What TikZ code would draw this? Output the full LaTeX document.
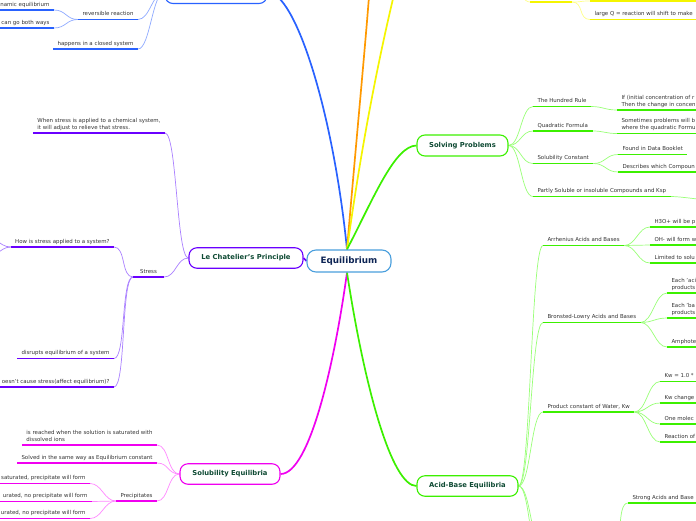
\documentclass[tikz,border=0pt]{standalone}
\usepackage{fontspec}
\setmainfont{DejaVu Sans}
\newcommand\leaffont{\fontsize{5.45}{7}\selectfont}
\newcommand\topicfont{\fontsize{6.8}{8}\selectfont\bfseries}
\newcommand\eqfont{\fontsize{8.8}{10}\selectfont\bfseries}
\definecolor{cBlue}{HTML}{2962FF}
\definecolor{cBlueL}{HTML}{8FAAFF}
\definecolor{cPur}{HTML}{6A00FF}
\definecolor{cPurL}{HTML}{AA80FF}
\definecolor{cMag}{HTML}{F000F0}
\definecolor{cMagL}{HTML}{FF88FF}
\definecolor{cGrn}{HTML}{3CF000}
\definecolor{cGrnL}{HTML}{99FF77}
\definecolor{cYel}{HTML}{F5F500}
\definecolor{cYelL}{HTML}{FFFF88}
\definecolor{cOra}{HTML}{FF9900}
\definecolor{cEq}{HTML}{4A9FDD}
\definecolor{cEqT}{HTML}{0D2454}
\definecolor{cTopT}{HTML}{0E4A33}
\definecolor{cTxt}{HTML}{333333}
\pgfdeclarelayer{background}
\pgfdeclarelayer{paper}
\pgfsetlayers{paper,background,main}
\tikzset{
  leaf/.style={font=\leaffont,text=cTxt,inner xsep=4.5pt,inner ysep=4pt,text depth=0pt,align=left,outer sep=0pt},
  ul/.style={line width=1.8pt,line cap=butt},
  conn/.style={line width=0.7pt},
  toR/.style={out=0,in=180,distance=12pt},
  toL/.style={out=180,in=0,distance=12pt},
  mainbr/.style={line width=1.7pt},
  topic/.style={draw,fill=white,rounded corners=8pt,line width=1.1pt,inner sep=0pt,minimum height=20.5pt,font=\topicfont,text=cTopT},
}
\newcommand\mleaf[5]{\node[leaf,anchor=#2] (#1) at (#3) {#5};\draw[ul,#4] (#1.south west) -- (#1.south east);}
\newcommand\cleaf[4]{\node[leaf,anchor=south west] (#1) at (#2) {#4};\draw[ul,#3] (#1.south west) -- ++(110,0);}
\begin{document}
\begin{tikzpicture}[x=1pt,y=-1pt]
\useasboundingbox (0,0) rectangle (696,520);
\clip (0,0) rectangle (696,520);
\begin{pgfonlayer}{paper}
\fill[white] (0,0) rectangle (696,520);
\end{pgfonlayer}

% central and topic nodes
\node[topic,draw=cEq,text=cEqT,font=\eqfont,minimum width=84pt,minimum height=22pt,rounded corners=9pt] (eq) at (349,261) {Equilibrium};
\node[topic,draw=cBlue,minimum width=102pt,minimum height=23pt] (bn) at (216,-8) {};
\node[topic,draw=cGrn,minimum width=91pt,minimum height=21pt] (sp) at (462.5,145.5) {Solving Problems};
\node[topic,draw=cPur,minimum width=114pt] (lc) at (246,258) {Le Chatelier's Principle};
\node[topic,draw=cMag,minimum width=100pt] (se) at (230,474) {Solubility Equilibria};
\node[topic,draw=cGrn,minimum width=101pt] (ab) at (467.5,486) {Acid-Base Equilibria};

% off-picture ends
\coordinate (oe) at (371,-30);
\coordinate (ye) at (400,-30);
\coordinate (yn) at (500,-35);
\coordinate (y1a) at (530,2);
\coordinate (y1b) at (572,2);
\coordinate (y2a) at (590,1);
\coordinate (y2b) at (700,1);
\coordinate (l21a) at (-19,233);
\coordinate (l21b) at (-19,262);
\coordinate (p4c) at (720,201);
\coordinate (h1) at (543,548);
\coordinate (h1e) at (612,548);
\coordinate (h2) at (543,575);

% leaves: blue
\mleaf{b1}{south east}{138,19.5}{cBlue}{reversible reaction}
\mleaf{b2}{south east}{138,49}{cBlue}{happens in a closed system}
\mleaf{b11}{south east}{54,10}{cBlue}{namic equilibrium}
\mleaf{b12}{south east}{54,28}{cBlue}{can go both ways}
% yellow
\draw[ul,cYel] (y1a) -- (y1b);
\draw[ul,cYel] (y2a) -- (y2b);
\cleaf{yq}{590,19.5}{cYel}{large Q = reaction will shift to make}
% purple
\mleaf{l1}{south east}{165,133}{cPur}{When stress is applied to a chemical system,\\it will adjust to relieve that stress.}
\node[leaf,anchor=south east,minimum width=31pt] (l2) at (164,277) {Stress};
\draw[ul,cPur] (l2.south west) -- (l2.south east);
\mleaf{l21}{south east}{114,247}{cPur}{How is stress applied to a system?}
\mleaf{l22}{south east}{114,358.5}{cPur}{disrupts equilibrium of a system}
\mleaf{l23}{south east}{114,387}{cPur}{oesn't cause stress(affect equilibrium)?}
% magenta
\mleaf{s1}{south east}{157,445}{cMag}{is reached when the solution is saturated with\\dissolved ions}
\mleaf{s2}{south east}{157,463}{cMag}{Solved in the same way as Equilibrium constant}
\mleaf{s3}{south east}{157,501}{cMag}{Precipitates}
\mleaf{s31}{south east}{90,483.5}{cMag}{saturated, precipitate will form}
\mleaf{s32}{south east}{92,501.5}{cMag}{urated, no precipitate will form}
\mleaf{s33}{south east}{90,518.5}{cMag}{urated, no precipitate will form}
% solving problems
\mleaf{p1}{south west}{533,106.5}{cGrn}{The Hundred Rule}
\cleaf{p11}{617,110}{cGrn}{If (initial concentration of r\\Then the change in concen}
\mleaf{p2}{south west}{533,131}{cGrn}{Quadratic Formula}
\cleaf{p21}{617,133.5}{cGrn}{Sometimes problems will b\\where the quadratic Formu}
\mleaf{p3}{south west}{533,163.5}{cGrn}{Solubility Constant}
\mleaf{p31}{south west}{618,154.5}{cGrn}{Found in Data Booklet}
\cleaf{p32}{618,172}{cGrn}{Describes which Compoun}
\mleaf{p4}{south west}{533,196.5}{cGrn}{Partly Soluble or insoluble Compounds and Ksp}
% acid-base
\mleaf{a1}{south west}{543,245.5}{cGrn}{Arrhenius Acids and Bases}
\cleaf{a11}{650,227}{cGrn}{H3O+ will be p}
\cleaf{a12}{650,245}{cGrn}{OH- will form w}
\cleaf{a13}{650,263}{cGrn}{Limited to solu}
\mleaf{a2}{south west}{543,322.5}{cGrn}{Bronsted-Lowry Acids and Bases}
\cleaf{a21}{667,293}{cGrn}{Each 'aci\\products}
\cleaf{a22}{667,318}{cGrn}{Each 'ba\\products}
\cleaf{a23}{667,347}{cGrn}{Amphote}
\mleaf{a3}{south west}{543,412}{cGrn}{Product constant of Water, Kw}
\cleaf{a31}{660,381.5}{cGrn}{Kw = 1.0 *}
\cleaf{a32}{660,403}{cGrn}{Kw change}
\cleaf{a33}{660,424}{cGrn}{One molec}
\cleaf{a34}{660,442}{cGrn}{Reaction of}
\cleaf{a41}{628,503}{cGrn}{Strong Acids and Base}

\begin{pgfonlayer}{background}
% main branches
\draw[mainbr,cBlue] ([xshift=-2pt]eq.north) .. controls (333,110) and (295,-8) .. (bn.east);
\draw[mainbr,cOra] ([xshift=-2pt]eq.north) .. controls (358,120) and (366,40) .. (oe);
\draw[mainbr,cYel] ([xshift=-2pt]eq.north) .. controls (365,120) and (385,30) .. (ye);
\draw[mainbr,cGrn] ([xshift=-2pt]eq.north) .. controls (375,195) and (395,146) .. (sp.west);
\draw[mainbr,cMag] ([xshift=-2pt]eq.south) .. controls (335,360) and (310,474) .. (se.east);
\draw[mainbr,cGrn] ([xshift=-2pt]eq.south) .. controls (365,390) and (392,486) .. (ab.west);
\draw[mainbr,cPur] (eq.west) -- (lc.east);
% blue
\draw[conn,cBlueL] (bn.west) to[toL] (b1.south east);
\draw[conn,cBlueL] (bn.west) to[toL] (b2.south east);
\draw[conn,cBlueL] (b1.south west) to[toL] (b11.south east);
\draw[conn,cBlueL] (b1.south west) to[toL] (b12.south east);
% yellow
\draw[conn,cYelL] (yn) to[toR] (y1a);
\draw[conn,cYelL] (y1b) to[toR] (y2a);
\draw[conn,cYelL] (y1b) to[toR] (yq.south west);
% purple
\draw[conn,cPurL] (lc.west) to[toL] (l1.south east);
\draw[conn,cPurL] (lc.west) to[toL] (l2.south east);
\draw[conn,cPurL] (l2.south west) to[toL] (l21.south east);
\draw[conn,cPurL] (l2.south west) to[toL] (l22.south east);
\draw[conn,cPurL] (l2.south west) to[toL] (l23.south east);
\draw[conn,cPurL] (l21.south west) to[toL] (l21a);
\draw[conn,cPurL] (l21.south west) to[toL] (l21b);
% magenta
\draw[conn,cMagL] (se.west) to[toL] (s1.south east);
\draw[conn,cMagL] (se.west) to[toL] (s2.south east);
\draw[conn,cMagL] (se.west) to[toL] (s3.south east);
\draw[conn,cMagL] (s3.south west) to[toL] (s31.south east);
\draw[conn,cMagL] (s3.south west) to[toL] (s32.south east);
\draw[conn,cMagL] (s3.south west) to[toL] (s33.south east);
% solving problems
\draw[conn,cGrnL] (sp.east) to[toR] (p1.south west);
\draw[conn,cGrnL] (sp.east) to[toR] (p2.south west);
\draw[conn,cGrnL] (sp.east) to[toR] (p3.south west);
\draw[conn,cGrnL] (sp.east) to[toR] (p4.south west);
\draw[conn,cGrnL] (p1.south east) to[toR] (p11.south west);
\draw[conn,cGrnL] (p2.south east) to[toR] (p21.south west);
\draw[conn,cGrnL] (p3.south east) to[toR] (p31.south west);
\draw[conn,cGrnL] (p3.south east) to[toR] (p32.south west);
\draw[conn,cGrnL] (p4.south east) to[toR] (p4c);
% acid-base
\draw[conn,cGrnL] (ab.east) to[toR] (a1.south west);
\draw[conn,cGrnL] (ab.east) to[toR] (a2.south west);
\draw[conn,cGrnL] (ab.east) to[toR] (a3.south west);
\draw[conn,cGrnL] (ab.east) to[toR] (h1);
\draw[conn,cGrnL] (ab.east) to[toR] (h2);
\draw[conn,cGrnL] (a1.south east) to[toR] (a11.south west);
\draw[conn,cGrnL] (a1.south east) to[toR] (a12.south west);
\draw[conn,cGrnL] (a1.south east) to[toR] (a13.south west);
\draw[conn,cGrnL] (a2.south east) to[toR] (a21.south west);
\draw[conn,cGrnL] (a2.south east) to[toR] (a22.south west);
\draw[conn,cGrnL] (a2.south east) to[toR] (a23.south west);
\draw[conn,cGrnL] (a3.south east) to[toR] (a31.south west);
\draw[conn,cGrnL] (a3.south east) to[toR] (a32.south west);
\draw[conn,cGrnL] (a3.south east) to[toR] (a33.south west);
\draw[conn,cGrnL] (a3.south east) to[toR] (a34.south west);
\draw[conn,cGrnL] (h1e) to[toR] (a41.south west);
\end{pgfonlayer}
\end{tikzpicture}
\end{document}
